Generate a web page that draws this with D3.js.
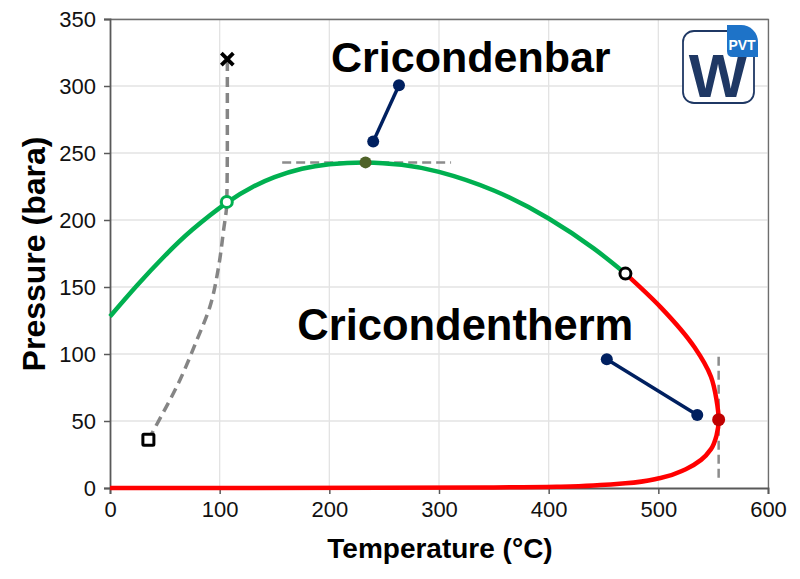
<!DOCTYPE html>
<html>
<head>
<meta charset="utf-8">
<script src="https://cdn.jsdelivr.net/npm/d3@7"></script>
<style>
  body { margin: 0; background: #fff; }
  svg { font-family: "Liberation Sans", Arial, sans-serif; }
</style>
</head>
<body>
<svg width="800" height="579"></svg>
<script>
// phase envelope data
// bubble point branch (green), T in degC, P in bara
var bubbleT = [0, 25, 50, 75, 107, 130, 150, 175, 200, 233, 266, 300, 350, 400, 441, 470];
var bubbleP = [128, 151.5, 173.3, 192.7, 213.2, 224.6, 232, 238.2, 241.6, 243, 241.2, 235.9, 222, 201.1, 178.8, 160];

// dew point branch (red), listed by rising pressure
var dewT = [0, 250, 350, 411, 447, 470, 502, 525, 539, 548, 553, 555, 553, 548, 533, 502, 470];
var dewP = [0, 0.1, 0.4, 1, 2.2, 3.5, 7.5, 14, 21, 29, 39, 51, 66, 83, 105, 135, 160];

// grey dashed path
var lineT = [35, 41, 64, 79, 91, 99, 103.5, 106.5, 107, 107];
var lineP = [36, 45, 81, 110, 135, 165, 192, 213, 260, 320];

var xTicks = [0, 100, 200, 300, 400, 500, 600];
var yTicks = [0, 50, 100, 150, 200, 250, 300, 350];

// special points
var cricondenbar = [233, 243];
var cricondentherm = [555, 51];
var critPoint = [470, 160];
var crossPoint = [106.5, 213.5];
var startPoint = [35, 36];
var endPoint = [107, 320];
var barLeader = [[240, 258.5], [263.5, 300.5]];
var thermLeader = [[453, 96], [535.5, 54.5]];
var barGuide = [[157, 243], [311, 243]];
var thermGuide = [[555, 98], [555, 4]];

// dimensions
var margin = {top: 19, right: 32, bottom: 91, left: 110},
    width = 800 - margin.left - margin.right,
    height = 579 - margin.top - margin.bottom;

var x = d3.scaleLinear().domain([0, 600]).range([0, width]);
var y = d3.scaleLinear().domain([0, 350]).range([height, 0]);

var svg = d3.select("svg")
  .append("g")
    .attr("transform", "translate(" + margin.left + "," + margin.top + ")");

// grid
svg.append("g").selectAll("line")
  .data(yTicks.slice(1))
  .join("line")
    .attr("x1", 0).attr("x2", width)
    .attr("y1", d => y(d)).attr("y2", d => y(d))
    .style("stroke", "#e3e3e3").style("stroke-width", 1.3);
svg.append("g").selectAll("line")
  .data(xTicks.slice(1))
  .join("line")
    .attr("x1", d => x(d)).attr("x2", d => x(d))
    .attr("y1", 0).attr("y2", height)
    .style("stroke", "#e3e3e3").style("stroke-width", 1.3);

// frame top/right
svg.append("path")
  .attr("d", "M0,0.5H" + (width + 0.5) + "V" + height)
  .style("fill", "none").style("stroke", "#6e6e6e").style("stroke-width", 1.3);

// axes
var xAxis = svg.append("g")
    .attr("transform", "translate(0," + height + ")")
    .call(d3.axisBottom(x).tickValues(xTicks).tickSize(6).tickPadding(7));
var yAxis = svg.append("g")
    .call(d3.axisLeft(y).tickValues(yTicks).tickSize(6).tickPadding(8));
[xAxis, yAxis].forEach(function (a) {
  a.select(".domain").style("stroke", "#595959").style("stroke-width", 1.8);
  a.selectAll(".tick line").style("stroke", "#595959").style("stroke-width", 1.5);
  a.selectAll("text")
    .style("font-size", "22px")
    .style("font-family", "Liberation Sans, Arial, sans-serif")
    .style("fill", "#111");
});

// axis titles
svg.append("text")
  .attr("x", width / 2 + 1)
  .attr("y", height + 70)
  .attr("text-anchor", "middle")
  .style("font-size", "28px")
  .style("font-weight", "bold")
  .text("Temperature (°C)");
svg.append("text")
  .attr("transform", "translate(-65," + (254 - margin.top) + ") rotate(-90)")
  .attr("text-anchor", "middle")
  .style("font-size", "32px")
  .style("font-weight", "bold")
  .text("Pressure (bara)");

// dashed guides
svg.append("path")
  .datum(d3.zip(lineT, lineP))
  .attr("d", d3.line().x(d => x(d[0])).y(d => y(d[1])).curve(d3.curveMonotoneY))
  .style("fill", "none").style("stroke", "#858585")
  .style("stroke-width", 3.5).style("stroke-dasharray", "10,6");
[barGuide, thermGuide].forEach(function (g) {
  svg.append("path")
    .datum(g)
    .attr("d", d3.line().x(d => x(d[0])).y(d => y(d[1])))
    .style("fill", "none").style("stroke", "#8c8c8c")
    .style("stroke-width", 2.5).style("stroke-dasharray", "9,5");
});

// envelope
svg.append("path")
  .datum(d3.zip(dewT, dewP))
  .attr("d", d3.line().x(d => x(d[0])).y(d => y(d[1])).curve(d3.curveMonotoneY))
  .style("fill", "none").style("stroke", "#ff0000").style("stroke-width", 4.5);
svg.append("path")
  .datum(d3.zip(bubbleT, bubbleP))
  .attr("d", d3.line().x(d => x(d[0])).y(d => y(d[1])).curve(d3.curveNatural))
  .style("fill", "none").style("stroke", "#00b050").style("stroke-width", 4.5);

// leaders
[barLeader, thermLeader].forEach(function (seg) {
  svg.append("path")
    .datum(seg)
    .attr("d", d3.line().x(d => x(d[0])).y(d => y(d[1])))
    .style("stroke", "#002060").style("stroke-width", 3.5);
  svg.selectAll(null)
    .data(seg)
    .join("circle")
      .attr("cx", d => x(d[0])).attr("cy", d => y(d[1])).attr("r", 6)
      .style("fill", "#002060");
});

// markers
svg.append("circle")
  .attr("cx", x(cricondenbar[0])).attr("cy", y(cricondenbar[1])).attr("r", 6)
  .style("fill", "#4f6228");
svg.append("circle")
  .attr("cx", x(cricondentherm[0])).attr("cy", y(cricondentherm[1])).attr("r", 6.5)
  .style("fill", "#c00000");
svg.append("circle")
  .attr("cx", x(crossPoint[0])).attr("cy", y(crossPoint[1])).attr("r", 5.5)
  .style("fill", "#fff").style("stroke", "#00b050").style("stroke-width", 3);
svg.append("circle")
  .attr("cx", x(critPoint[0])).attr("cy", y(critPoint[1])).attr("r", 5.5)
  .style("fill", "#fff").style("stroke", "#000").style("stroke-width", 3);
svg.append("rect")
  .attr("x", x(startPoint[0]) - 5.5).attr("y", y(startPoint[1]) - 5.5)
  .attr("width", 11).attr("height", 11).attr("rx", 1)
  .style("fill", "#fff").style("stroke", "#000").style("stroke-width", 3);
svg.append("path")
  .attr("transform", "translate(" + x(endPoint[0]) + "," + y(endPoint[1]) + ")")
  .attr("d", "M-6,-6L6,6M-6,6L6,-6")
  .style("stroke", "#000").style("stroke-width", 3.8);

// labels
svg.append("text")
  .attr("x", x(329)).attr("y", 53)
  .attr("text-anchor", "middle")
  .style("font-size", "43px").style("font-weight", "bold")
  .text("Cricondenbar");
svg.append("text")
  .attr("x", x(324)).attr("y", 321)
  .attr("text-anchor", "middle")
  .style("font-size", "43.5px").style("font-weight", "bold")
  .text("Cricondentherm");

// logo
var logo = d3.select("svg").append("g").attr("transform", "translate(683,31)");
logo.append("rect")
  .attr("x", 0).attr("y", 0).attr("width", 71).attr("height", 72).attr("rx", 11)
  .style("fill", "#fff").style("stroke", "#1f3864").style("stroke-width", 1.8);
logo.append("text")
  .attr("x", 35).attr("y", 66)
  .attr("text-anchor", "middle")
  .style("font-size", "62px").style("font-weight", "bold")
  .style("fill", "#1f3864")
  .text("W");
logo.append("path")
  .attr("d", "M44,-6H58A17,17 0 0 1 75,11V26H50Q44,26 44,20Z")
  .style("fill", "#1e73c8");
logo.append("text")
  .attr("x", 59).attr("y", 19)
  .attr("text-anchor", "middle")
  .style("font-size", "14px").style("font-weight", "bold")
  .style("fill", "#fff")
  .text("PVT");
</script>
</body>
</html>
